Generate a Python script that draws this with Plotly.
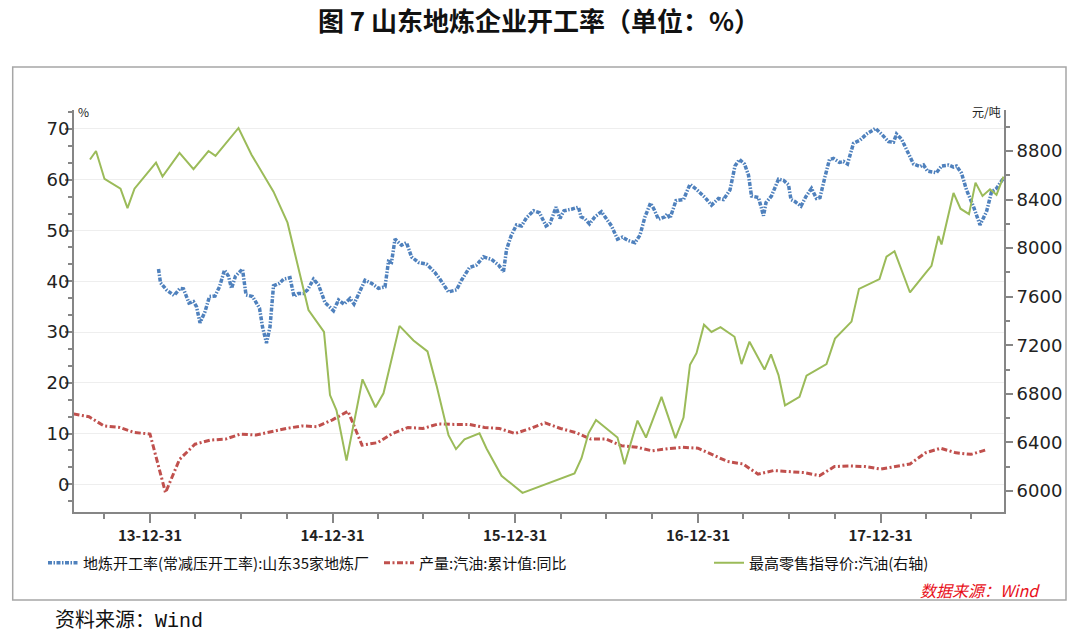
import plotly.graph_objects as go

# ---------------- data ----------------
title_text = "图 7 山东地炼企业开工率（单位：%）"
blue_name = "地炼开工率(常减压开工率):山东35家地炼厂"
red_name = "产量:汽油:累计值:同比"
green_name = "最高零售指导价:汽油(右轴)"

blue_dates = [
    "2014-01-17", "2014-01-21", "2014-02-02", "2014-02-17", "2014-03-01", "2014-03-08", "2014-03-19",
    "2014-03-28", "2014-04-03", "2014-04-10", "2014-04-20", "2014-04-29", "2014-05-10", "2014-05-19",
    "2014-05-29", "2014-06-06", "2014-06-12", "2014-06-20", "2014-07-04", "2014-07-11", "2014-07-24",
    "2014-08-07", "2014-08-13", "2014-08-21", "2014-08-28", "2014-09-04", "2014-09-16", "2014-09-24",
    "2014-10-07", "2014-10-15", "2014-10-24", "2014-11-03", "2014-11-11", "2014-11-23", "2014-12-03",
    "2014-12-16", "2015-01-02", "2015-01-12", "2015-01-23", "2015-02-04", "2015-02-12", "2015-02-22",
    "2015-03-06", "2015-03-19", "2015-04-02", "2015-04-15", "2015-04-22", "2015-04-28", "2015-05-05",
    "2015-05-18", "2015-05-28", "2015-06-07", "2015-06-21", "2015-07-07", "2015-07-24", "2015-08-03",
    "2015-08-20", "2015-09-05", "2015-09-15", "2015-10-01", "2015-10-15", "2015-10-29", "2015-11-14",
    "2015-11-28", "2015-12-08", "2015-12-14", "2015-12-23", "2016-01-03", "2016-01-13", "2016-01-23",
    "2016-02-06", "2016-02-18", "2016-03-02", "2016-03-10", "2016-03-22", "2016-03-30", "2016-04-07",
    "2016-04-22", "2016-05-06", "2016-05-11", "2016-05-19", "2016-05-28", "2016-06-08", "2016-06-21",
    "2016-07-01", "2016-07-11", "2016-07-23", "2016-08-02", "2016-08-14", "2016-08-27", "2016-09-06",
    "2016-09-16", "2016-09-27", "2016-10-04", "2016-10-13", "2016-10-26", "2016-10-31", "2016-11-05",
    "2016-11-17", "2016-12-02", "2016-12-15", "2016-12-28", "2017-01-14", "2017-01-27", "2017-02-10",
    "2017-02-20", "2017-03-05", "2017-03-15", "2017-03-24", "2017-04-03", "2017-04-11", "2017-04-17",
    "2017-05-01", "2017-05-11", "2017-05-16", "2017-05-27", "2017-06-10", "2017-06-20", "2017-06-30",
    "2017-07-05", "2017-07-13", "2017-07-25", "2017-08-04", "2017-08-15", "2017-08-25", "2017-09-01",
    "2017-09-11", "2017-09-20", "2017-09-28", "2017-10-10", "2017-10-18", "2017-10-26", "2017-11-07",
    "2017-11-20", "2017-12-03", "2017-12-21", "2018-01-02", "2018-01-16", "2018-01-26", "2018-02-01",
    "2018-02-11", "2018-02-21", "2018-03-07", "2018-03-20", "2018-03-27", "2018-04-04", "2018-04-22",
    "2018-05-02", "2018-05-16", "2018-05-26", "2018-06-01", "2018-06-11", "2018-06-21", "2018-07-05",
    "2018-07-18", "2018-07-31", "2018-08-10", "2018-08-20", "2018-09-03",
]
blue_values = [
    42.4, 39.7, 38.3, 37.2, 38.6, 38.5, 35.7,
    36.0, 35.0, 31.8, 34.0, 37.0, 37.1, 38.9,
    42.2, 41.0, 38.6, 41.0, 42.4, 37.3, 37.0,
    34.7, 31.0, 27.8, 31.0, 39.1, 39.6, 40.4,
    40.7, 37.0, 37.6, 37.6, 38.3, 40.4, 39.3,
    35.8, 34.2, 36.3, 35.5, 36.6, 35.5, 37.6,
    40.2, 39.6, 38.6, 38.9, 43.9, 43.7, 48.3,
    47.1, 47.6, 44.8, 43.7, 43.4, 41.7, 40.4,
    37.9, 38.3, 40.2, 42.7, 43.2, 44.8, 44.3,
    43.2, 41.9, 46.2, 48.9, 51.1, 50.9, 52.5,
    53.9, 53.5, 50.9, 51.4, 54.6, 52.4, 53.9,
    54.2, 54.6, 52.7, 52.3, 51.3, 52.7, 53.7,
    52.4, 50.9, 48.3, 48.7, 48.0, 47.6, 49.1,
    52.7, 55.4, 54.2, 52.2, 52.7, 53.3, 52.4,
    55.9, 56.1, 59.1, 58.1, 56.5, 55.0, 56.3,
    56.1, 58.0, 62.7, 64.0, 63.1, 60.9, 56.8,
    56.5, 52.9, 55.5, 56.8, 60.1, 59.9, 59.0,
    56.1, 55.7, 54.8, 56.7, 58.3, 56.3, 56.5,
    60.6, 64.0, 64.2, 63.4, 63.6, 63.1, 67.2,
    67.8, 69.0, 70.1, 69.0, 67.5, 67.4, 69.0,
    68.0, 65.9, 63.1, 62.6, 62.9, 61.7, 61.4,
    62.7, 62.9, 62.5, 62.7, 61.3, 58.0, 54.7,
    51.1, 53.7, 57.6, 58.3, 60.3,
]

red_dates = [
    "2013-07-31", "2013-08-31", "2013-09-30", "2013-10-31", "2013-11-30", "2013-12-31",
    "2014-01-31", "2014-02-28", "2014-03-31", "2014-04-30", "2014-05-31", "2014-06-30",
    "2014-07-31", "2014-08-31", "2014-09-30", "2014-10-31", "2014-11-30", "2014-12-31",
    "2015-01-31", "2015-02-28", "2015-03-31", "2015-04-30", "2015-05-31", "2015-06-30",
    "2015-07-31", "2015-08-31", "2015-09-30", "2015-10-31", "2015-11-30", "2015-12-31",
    "2016-01-31", "2016-02-29", "2016-03-31", "2016-04-30", "2016-05-31", "2016-06-30",
    "2016-07-31", "2016-08-31", "2016-09-30", "2016-10-31", "2016-11-30", "2016-12-31",
    "2017-01-31", "2017-02-28", "2017-03-31", "2017-04-30", "2017-05-31", "2017-06-30",
    "2017-07-31", "2017-08-31", "2017-09-30", "2017-10-31", "2017-11-30", "2017-12-31",
    "2018-01-31", "2018-02-28", "2018-03-31", "2018-04-30", "2018-05-31", "2018-06-30",
    "2018-07-31",
]
red_values = [
    13.85, 13.3, 11.5, 11.2, 10.2, 9.9,
    -1.65, 4.9, 7.9, 8.7, 8.9, 9.9,
    9.7, 10.4, 11.0, 11.5, 11.35, 12.7,
    14.4, 7.7, 8.2, 10.0, 11.2, 11.0,
    11.9, 11.8, 11.8, 11.2, 11.0, 10.0,
    11.0, 12.1, 11.0, 10.2, 8.9, 8.9,
    7.6, 7.3, 6.6, 7.0, 7.3, 7.1,
    5.8, 4.5, 4.0, 2.0, 2.7, 2.5,
    2.3, 1.7, 3.5, 3.6, 3.5, 3.0,
    3.5, 4.0, 6.2, 7.1, 6.2, 5.9,
    6.8,
]

green_dates = [
    "2013-09-02", "2013-09-14", "2013-10-01", "2013-11-02", "2013-11-16", "2013-11-30",
    "2014-01-12", "2014-01-25", "2014-02-28", "2014-03-28", "2014-04-27", "2014-05-11",
    "2014-06-26", "2014-07-22", "2014-09-04", "2014-10-02", "2014-11-13", "2014-12-14",
    "2014-12-26", "2015-01-08", "2015-01-28", "2015-03-01", "2015-03-27", "2015-04-12",
    "2015-05-14", "2015-06-11", "2015-07-09", "2015-07-27", "2015-08-20", "2015-09-04",
    "2015-09-21", "2015-10-21", "2015-11-04", "2015-12-04", "2016-01-15", "2016-04-28",
    "2016-05-12", "2016-05-26", "2016-06-10", "2016-07-23", "2016-08-06", "2016-09-01",
    "2016-09-18", "2016-10-19", "2016-11-16", "2016-12-02", "2016-12-15", "2016-12-28",
    "2017-01-12", "2017-01-27", "2017-02-14", "2017-03-14", "2017-03-28", "2017-04-13",
    "2017-05-13", "2017-05-26", "2017-06-10", "2017-06-23", "2017-07-22", "2017-08-05",
    "2017-09-14", "2017-10-01", "2017-11-03", "2017-11-18", "2017-12-29", "2018-01-12",
    "2018-01-28", "2018-02-28", "2018-03-31", "2018-04-12", "2018-04-26", "2018-05-02",
    "2018-05-26", "2018-06-09", "2018-06-26", "2018-07-09", "2018-07-23", "2018-08-07",
    "2018-08-20", "2018-09-03",
]
green_values = [
    8730, 8800, 8570, 8490, 8330, 8490,
    8705, 8590, 8785, 8650, 8800, 8760,
    8990, 8770, 8465, 8210, 7490, 7310,
    6790, 6665, 6250, 6920, 6690, 6805,
    7360, 7240, 7150, 6870, 6460, 6345,
    6425, 6475, 6350, 6125, 5985, 6145,
    6270, 6475, 6585, 6440, 6220, 6580,
    6440, 6775, 6435, 6605, 7040, 7135,
    7370, 7310, 7350, 7270, 7045, 7230,
    7000, 7125, 6955, 6705, 6775, 6950,
    7045, 7255, 7395, 7665, 7745, 7930,
    7975, 7635, 7795, 7855, 8100, 8030,
    8455, 8325, 8280, 8540, 8430, 8485,
    8440, 8590,
]

x_tick_dates = ["2013-12-31", "2014-12-31", "2015-12-31", "2016-12-31", "2017-12-31"]
x_minor_dates = [
    "2013-09-30", "2013-12-31", "2014-03-31", "2014-06-30", "2014-09-30", "2014-12-31",
    "2015-03-31", "2015-06-30", "2015-09-30", "2015-12-31", "2016-03-31", "2016-06-30",
    "2016-09-30", "2016-12-31", "2017-03-31", "2017-06-30", "2017-09-30", "2017-12-31",
    "2018-03-31", "2018-06-30",
]
x_range = ["2013-08-01", "2018-09-04"]
left_range = [-5.46, 73.74]
right_range = [5827, 9138]

source_text = "资料来源：Wind"
data_source_text = "数据来源：Wind"
left_unit = "%"
right_unit = "元/吨"

# ---------------- styling ----------------
CJK = "Noto Sans CJK SC"
AXIS = "#868686"
BLUE = "#4F81BD"
RED = "#C0504D"
GREEN = "#9BBB59"

fig = go.Figure()
fig.add_trace(go.Scatter(
    x=blue_dates, y=blue_values, name=blue_name, mode="lines",
    line=dict(color=BLUE, width=3.5, dash="4px,1.5px,1.5px,1.5px"),
    yaxis="y", legend="legend",
))
fig.add_trace(go.Scatter(
    x=red_dates, y=red_values, name=red_name, mode="lines",
    line=dict(color=RED, width=3, dash="6px,2.5px,2px,2.5px"),
    yaxis="y", legend="legend2",
))
fig.add_trace(go.Scatter(
    x=green_dates, y=green_values, name=green_name, mode="lines",
    line=dict(color=GREEN, width=2),
    yaxis="y2", legend="legend3",
))

L, R, T, B = 74, 76, 110, 132
W, H = 1080, 644
pw, ph = W - L - R, H - T - B


def px_x(p):
    return (p - L) / pw


def px_y(p):
    return (H - B - p) / ph


def legend_at(px_left):
    return dict(
        orientation="h", x=px_x(px_left), xanchor="left", y=px_y(563), yanchor="middle",
        font=dict(family=CJK, size=15, color="#111111"),
        bgcolor="rgba(0,0,0,0)", itemwidth=30,
    )


tick_font = dict(family="DejaVu Sans", size=18, color="#222222")

fig.update_layout(
    width=W, height=H,
    margin=dict(l=L, r=R, t=T, b=B, pad=0),
    paper_bgcolor="white", plot_bgcolor="white",
    font=dict(family=CJK, color="#222222"),
    title=dict(
        text=title_text, x=0.5, xanchor="center", xref="paper",
        y=1 - 22 / H, yref="container", yanchor="middle",
        font=dict(family=CJK, size=26, color="#111111", weight="bold"),
    ),
    showlegend=True,
    legend=legend_at(43),
    legend2=legend_at(379),
    legend3=legend_at(709),
    xaxis=dict(
        type="date", range=x_range,
        showline=True, linecolor=AXIS, linewidth=2,
        ticks="outside", ticklen=9, tickwidth=1.5, tickcolor=AXIS,
        tickvals=x_tick_dates, tickformat="%y-%m-%d",
        tickfont=dict(family=CJK, size=15, color="#222222", weight="bold"),
        showgrid=False, zeroline=False,
        minor=dict(tickvals=x_minor_dates, ticks="outside", ticklen=5, tickwidth=1.5,
                   tickcolor=AXIS, showgrid=False),
    ),
    yaxis=dict(
        range=left_range, tick0=0, dtick=10,
        showline=True, linecolor=AXIS, linewidth=2,
        ticks="outside", ticklen=7, tickwidth=1.5, tickcolor=AXIS,
        tickfont=tick_font, ticklabelstandoff=-8,
        showgrid=True, gridcolor="#EEEEEE", gridwidth=1, zeroline=False,
        minor=dict(tick0=0, dtick=10 / 3, ticks="outside", ticklen=4, tickwidth=1.5,
                   tickcolor=AXIS, showgrid=False),
    ),
    yaxis2=dict(
        range=right_range, tick0=6000, dtick=400, overlaying="y", side="right",
        showline=True, linecolor=AXIS, linewidth=2,
        ticks="outside", ticklen=7, tickwidth=1.5, tickcolor=AXIS,
        tickfont=tick_font,
        showgrid=False, zeroline=False,
        minor=dict(tick0=6000, dtick=200, ticks="outside", ticklen=4, tickwidth=1.5,
                   tickcolor=AXIS, showgrid=False),
    ),
)

# outer frame
fig.add_shape(
    type="rect", xref="paper", yref="paper",
    x0=px_x(12.7), x1=px_x(1066), y0=px_y(600), y1=px_y(67),
    line=dict(color="#A6A6A6", width=1.5), fillcolor="rgba(0,0,0,0)", layer="below",
)

fig.add_annotation(
    text=left_unit, xref="paper", yref="paper", x=px_x(76), y=px_y(111),
    xanchor="left", yanchor="middle", showarrow=False,
    font=dict(family=CJK, size=12, color="#222222"),
)
fig.add_annotation(
    text=right_unit, xref="paper", yref="paper", x=px_x(1003), y=px_y(111),
    xanchor="right", yanchor="middle", showarrow=False,
    font=dict(family=CJK, size=12, color="#222222"),
)
fig.add_annotation(
    text=data_source_text, xref="paper", yref="paper", x=px_x(1042), y=px_y(590),
    xanchor="right", yanchor="middle", showarrow=False,
    font=dict(family=CJK, size=16, color="#E8101A", style="italic"),
)
fig.add_annotation(
    text=source_text, xref="paper", yref="paper", x=px_x(53), y=px_y(621),
    xanchor="left", yanchor="middle", showarrow=False,
    font=dict(family="Liberation Mono, " + CJK, size=20, color="#111111"),
)

fig.write_html("out.html")
